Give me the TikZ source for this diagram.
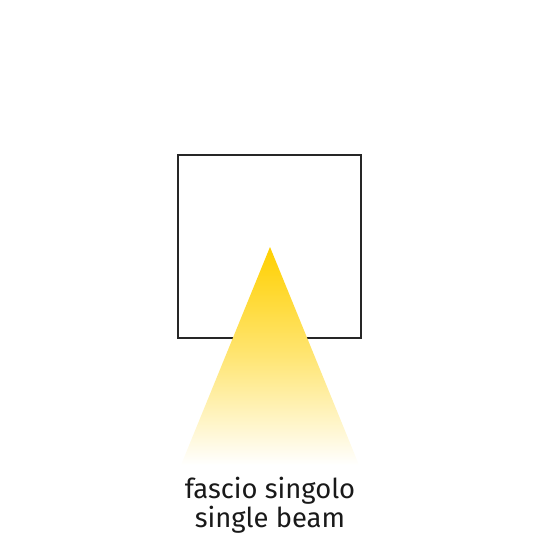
\documentclass[tikz,border=0pt]{standalone}
\usepackage{fontspec}
\setmainfont{Fira Sans}
\usetikzlibrary{calc}

\definecolor{beam}{RGB}{255,208,0}

\begin{document}
\begin{tikzpicture}[x=1pt,y=-1pt]

\def\sqside{183}
\def\beamtop{247}
\def\beambot{465}

\useasboundingbox (0,0) rectangle (540,540);

% lamp body
\coordinate (sq1) at (178,155);
\coordinate (sq2) at ($(sq1) + (\sqside,\sqside)$);
\draw[line width=1.8pt, black!85] (sq1) rectangle (sq2);

% light cone
\coordinate (apex) at (270,\beamtop);
\coordinate (bl) at (181,\beambot);
\coordinate (br) at (359,\beambot);
\shade[top color=beam, bottom color=white, middle color=beam!55]
    (apex) -- (br) -- (bl) -- cycle;

\node[font=\fontsize{27.4}{26}\selectfont, align=center, anchor=base, text=black!90]
    (label) at (270,527) {fascio singolo\\single beam};

\end{tikzpicture}
\end{document}
